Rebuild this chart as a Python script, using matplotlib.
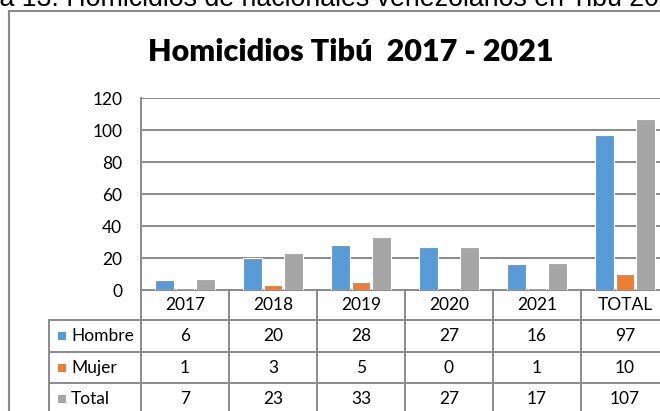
import numpy as np
import matplotlib
matplotlib.use('Agg')
import matplotlib.pyplot as plt
from matplotlib.patches import Rectangle
from matplotlib.lines import Line2D
from matplotlib.transforms import blended_transform_factory

categories = ['2017', '2018', '2019', '2020', '2021', 'TOTAL']
hombre = [6, 20, 28, 27, 16, 97]
mujer = [1, 3, 5, 0, 1, 10]
total = [7, 23, 33, 27, 17, 107]
series_names = ['Hombre', 'Mujer', 'Total']
series_colors = ['#5B9BD5', '#ED7D31', '#A5A5A5']
yticks = [0, 20, 40, 60, 80, 100, 120]

title = 'Homicidios Tibú  2017 - 2021'
caption = 'Gráfica 13. Homicidios de nacionales venezolanos en Tibú 2017 - 2021'

W, H = 660, 411
LINE_C = '#8a8a8a'
FONT = 'Lato'


def fx(px):
    return px / W


def fy(py):
    # pixels from the top -> figure fraction
    return 1 - py / H


fig = plt.figure(figsize=(W / 100, H / 100), dpi=100)
fig.patch.set_facecolor('white')

# outer chart frame (runs off the right and bottom of the crop)
fig.add_artist(Rectangle((fx(9), -0.2), 1.3, fy(11.5) + 0.2, transform=fig.transFigure,
                         facecolor='none', edgecolor=LINE_C, lw=1.5))

# caption above the chart, mostly cropped away
cap_font = dict(family='Liberation Sans', size=19.3)
probe = fig.text(0, 0, 'Gráfic', **cap_font)
fig.canvas.draw()
shift = probe.get_window_extent().width
probe.remove()
fig.text(-shift / W, fy(6.5), caption, va='baseline', ha='left', color='black', **cap_font)

fig.text(fx(351), fy(52), title, ha='center', va='center', family=FONT,
         fontweight='heavy', fontsize=22, color='black')

ax = fig.add_axes([fx(141), fy(290), 528 / W, 192 / H])
x = np.arange(len(categories))
series = [hombre, mujer, total]
offset = 0.228
width = 0.215
for i, (vals, color) in enumerate(zip(series, series_colors)):
    ax.bar(x + (i - 1) * offset, vals, width, color=color, edgecolor='white',
           linewidth=0.8, zorder=3)

ax.set_xlim(-0.5, len(categories) - 0.5)
ax.set_ylim(0, 120)
ax.set_yticks(yticks)
ax.set_xticks([])
ax.yaxis.grid(True, color=LINE_C, lw=1.4, zorder=0)
ax.set_axisbelow(True)
for s in ['top', 'right']:
    ax.spines[s].set_visible(False)
for s in ['left', 'bottom']:
    ax.spines[s].set_color(LINE_C)
    ax.spines[s].set_linewidth(1.4)
ax.tick_params(axis='y', length=0, pad=13.5, labelsize=12.5)
for lab in ax.get_yticklabels():
    lab.set_family(FONT)

# data table under the plot
trans = blended_transform_factory(ax.transData, fig.transFigure)
row_edges = [290, 320, 351.7, 383.3, 415]
for k in range(len(categories) + 1):
    ax.add_line(Line2D([k - 0.5, k - 0.5], [fy(row_edges[0]), fy(row_edges[-1])],
                       transform=trans, color=LINE_C, lw=1.4, clip_on=False))
for ye in row_edges[1:-1]:
    fig.add_artist(Line2D([fx(49), 1.05], [fy(ye), fy(ye)], transform=fig.transFigure,
                          color=LINE_C, lw=1.4))
fig.add_artist(Line2D([fx(49), fx(49)], [fy(row_edges[1]), fy(row_edges[-1])],
                      transform=fig.transFigure, color=LINE_C, lw=1.4))

txt = dict(family=FONT, fontsize=12.5, color='black', va='center')
yc = fy((row_edges[0] + row_edges[1]) / 2)
for xi, cat in zip(x, categories):
    ax.text(xi, yc, cat, transform=trans, ha='center', clip_on=False, **txt)

for r, (name, color, vals) in enumerate(zip(series_names, series_colors, series)):
    yc = fy((row_edges[r + 1] + row_edges[r + 2]) / 2)
    fig.add_artist(Rectangle((fx(57.5), yc - 4 / H), 8 / W, 8 / H, transform=fig.transFigure,
                             facecolor=color, edgecolor='none'))
    fig.text(fx(71), yc, name, ha='left', **txt)
    for xi, v in zip(x, vals):
        ax.text(xi, yc, str(v), transform=trans, ha='center', clip_on=False, **txt)

fig.savefig('out.png', dpi=100)
